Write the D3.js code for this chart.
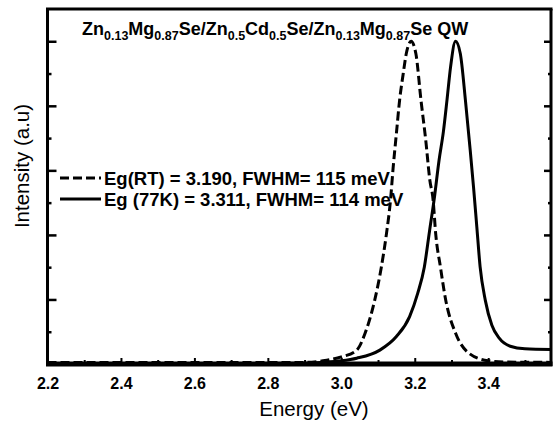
<!DOCTYPE html>
<html><head><meta charset="utf-8">
<script src="https://cdn.jsdelivr.net/npm/d3@7"></script>
<style>body{margin:0;background:#fff}svg{display:block}text{font-family:"Liberation Sans",Arial,sans-serif;fill:#000}</style>
</head><body><div id="chart"></div>
<script>
// ---- data ----
const energyRT = [2.20,2.90,2.95,3.00,3.042,3.065,3.091,3.109,3.123,3.134,3.141,3.150,3.159,3.168,3.177,3.19,3.203,3.217,3.230,3.241,3.250,3.257,3.270,3.284,3.311,3.347,3.40,3.45,3.571];
const intensityRT = [0.05,0.05,0.1,0.22,0.43,0.96,1.98,3.0,4.04,5.08,6.06,7.14,8.2,8.95,9.62,10,9.62,8.17,6.93,5.7,5.08,4.04,3.0,2.0,0.96,0.34,0.1,0.06,0.05];
const energy77K = [2.20,2.90,2.95,3.00,3.042,3.105,3.15,3.186,3.208,3.226,3.240,3.254,3.266,3.278,3.288,3.2975,3.311,3.324,3.338,3.351,3.360,3.369,3.378,3.392,3.410,3.430,3.460,3.50,3.571];
const intensity77K = [0.0,0.02,0.05,0.1,0.18,0.43,0.85,1.47,2.19,3.0,4.1,5.2,6.3,7.2,8.2,9.2,10,9.62,8.17,6.63,5.49,4.25,3.01,1.98,1.2,0.8,0.55,0.47,0.45];
const xTickValues = [2.2,2.4,2.6,2.8,3.0,3.2,3.4];
const xMinorTicks = [2.3,2.5,2.7,2.9,3.1,3.3,3.5];
const yMajorTicks = [2,4,6,8,10];
const yMinorTicks = [1,3,5,7,9];
const titleParts = [["Zn",0],["0.13",1],["Mg",0],["0.87",1],["Se/Zn",0],["0.5",1],["Cd",0],["0.5",1],["Se/Zn",0],["0.13",1],["Mg",0],["0.87",1],["Se QW",0]];
const legendLabels = ["Eg(RT) = 3.190, FWHM= 115 meV","Eg (77K) = 3.311, FWHM= 114 meV"];
const xLabel = "Energy (eV)";
const yLabel = "Intensity (a.u)";

// ---- chart ----
const W = 553, H = 424;
const svg = d3.select("#chart").append("svg").attr("width", W).attr("height", H);
const x = d3.scaleLinear().domain([2.2, 3.571]).range([47.5, 551]);
const y = d3.scaleLinear().domain([0, 11]).range([364, 9]);

const g = svg.append("g");
const line = d3.line().x(d => x(d[0])).y(d => y(d[1])).curve(d3.curveMonotoneX);
g.append("path").datum(energyRT.map((e,i)=>[e,intensityRT[i]]))
  .attr("d", line).attr("fill","none").attr("stroke","#000").attr("stroke-width",3)
  .attr("stroke-dasharray","9,4");
g.append("path").datum(energy77K.map((e,i)=>[e,intensity77K[i]]))
  .attr("d", line).attr("fill","none").attr("stroke","#000").attr("stroke-width",3);

// axes
const xAxis = d3.axisBottom(x).tickValues(xTickValues).tickFormat(d3.format(".1f")).tickSizeInner(-6).tickSizeOuter(0).tickPadding(14);
const xa = svg.append("g").attr("transform",`translate(0,${y(0)})`).call(xAxis);
xa.select(".domain").remove();
xa.selectAll(".tick line").attr("stroke-width",2);
xa.selectAll(".tick text").attr("font-size",16).attr("font-weight","bold").attr("font-family","Liberation Sans, Arial, sans-serif");
const xm = svg.append("g").attr("transform",`translate(0,${y(0)})`).call(d3.axisBottom(x).tickValues(xMinorTicks).tickSizeInner(-4).tickSizeOuter(0).tickFormat(""));
xm.select(".domain").remove();
xm.selectAll(".tick line").attr("stroke-width",2);

const ya = svg.append("g").attr("transform",`translate(${x(2.2)},0)`).call(d3.axisLeft(y).tickValues(yMajorTicks).tickSizeInner(-9).tickSizeOuter(0).tickFormat(""));
ya.select(".domain").remove(); ya.selectAll(".tick line").attr("stroke-width",2.5);
const ym = svg.append("g").attr("transform",`translate(${x(2.2)},0)`).call(d3.axisLeft(y).tickValues(yMinorTicks).tickSizeInner(-4).tickSizeOuter(0).tickFormat(""));
ym.select(".domain").remove(); ym.selectAll(".tick line").attr("stroke-width",2.5);
const yr = svg.append("g").attr("transform",`translate(${x(3.571)},0)`).call(d3.axisRight(y).tickValues(yMajorTicks).tickSizeInner(-7).tickSizeOuter(0).tickFormat(""));
yr.select(".domain").remove(); yr.selectAll(".tick line").attr("stroke-width",2.5);
const yrm = svg.append("g").attr("transform",`translate(${x(3.571)},0)`).call(d3.axisRight(y).tickValues(yMinorTicks).tickSizeInner(-3).tickSizeOuter(0).tickFormat(""));
yrm.select(".domain").remove(); yrm.selectAll(".tick line").attr("stroke-width",2.5);

// frame
const [x0,x1] = x.range(), [y0,y1] = y.range();
svg.append("line").attr("x1",x0).attr("x2",x0).attr("y1",y1).attr("y2",y0+2).attr("stroke","#000").attr("stroke-width",3);
svg.append("line").attr("x1",x1).attr("x2",x1).attr("y1",y1).attr("y2",y0+2).attr("stroke","#000").attr("stroke-width",3);
svg.append("line").attr("x1",x0-1.5).attr("x2",x1+1.5).attr("y1",y1).attr("y2",y1).attr("stroke","#000").attr("stroke-width",3);
svg.append("line").attr("x1",x0-1.5).attr("x2",x1+1.5).attr("y1",y0).attr("y2",y0).attr("stroke","#000").attr("stroke-width",5);

// title
const title = svg.append("text").attr("x",82).attr("y",35).attr("font-size",18).attr("font-weight","bold");
titleParts.forEach((p,i)=>{
  const prev = i>0 ? titleParts[i-1][1] : 0;
  const t = title.append("tspan").text(p[0]);
  if (p[1]) t.attr("font-size",12.5).attr("dy",5);
  else if (prev) t.attr("dy",-5);
});

// legend
const lg = svg.append("g");
legendLabels.forEach((lab,i)=>{
  const ly = 178 + i*21;
  lg.append("line").attr("x1",60).attr("x2",101).attr("y1",ly).attr("y2",ly)
    .attr("stroke","#000").attr("stroke-width",3).attr("stroke-dasharray", i===0 ? "9,4" : null);
  lg.append("text").attr("x",104).attr("y",ly+6.5).attr("font-size",18.5).attr("font-weight","bold").text(lab);
});

// axis labels
svg.append("text").attr("x",314).attr("y",416).attr("text-anchor","middle").attr("font-size",20.5).text(xLabel);
svg.append("text").attr("transform",`translate(29,166) rotate(-90)`).attr("text-anchor","middle").attr("font-size",20.5).text(yLabel);
</script></body></html>
